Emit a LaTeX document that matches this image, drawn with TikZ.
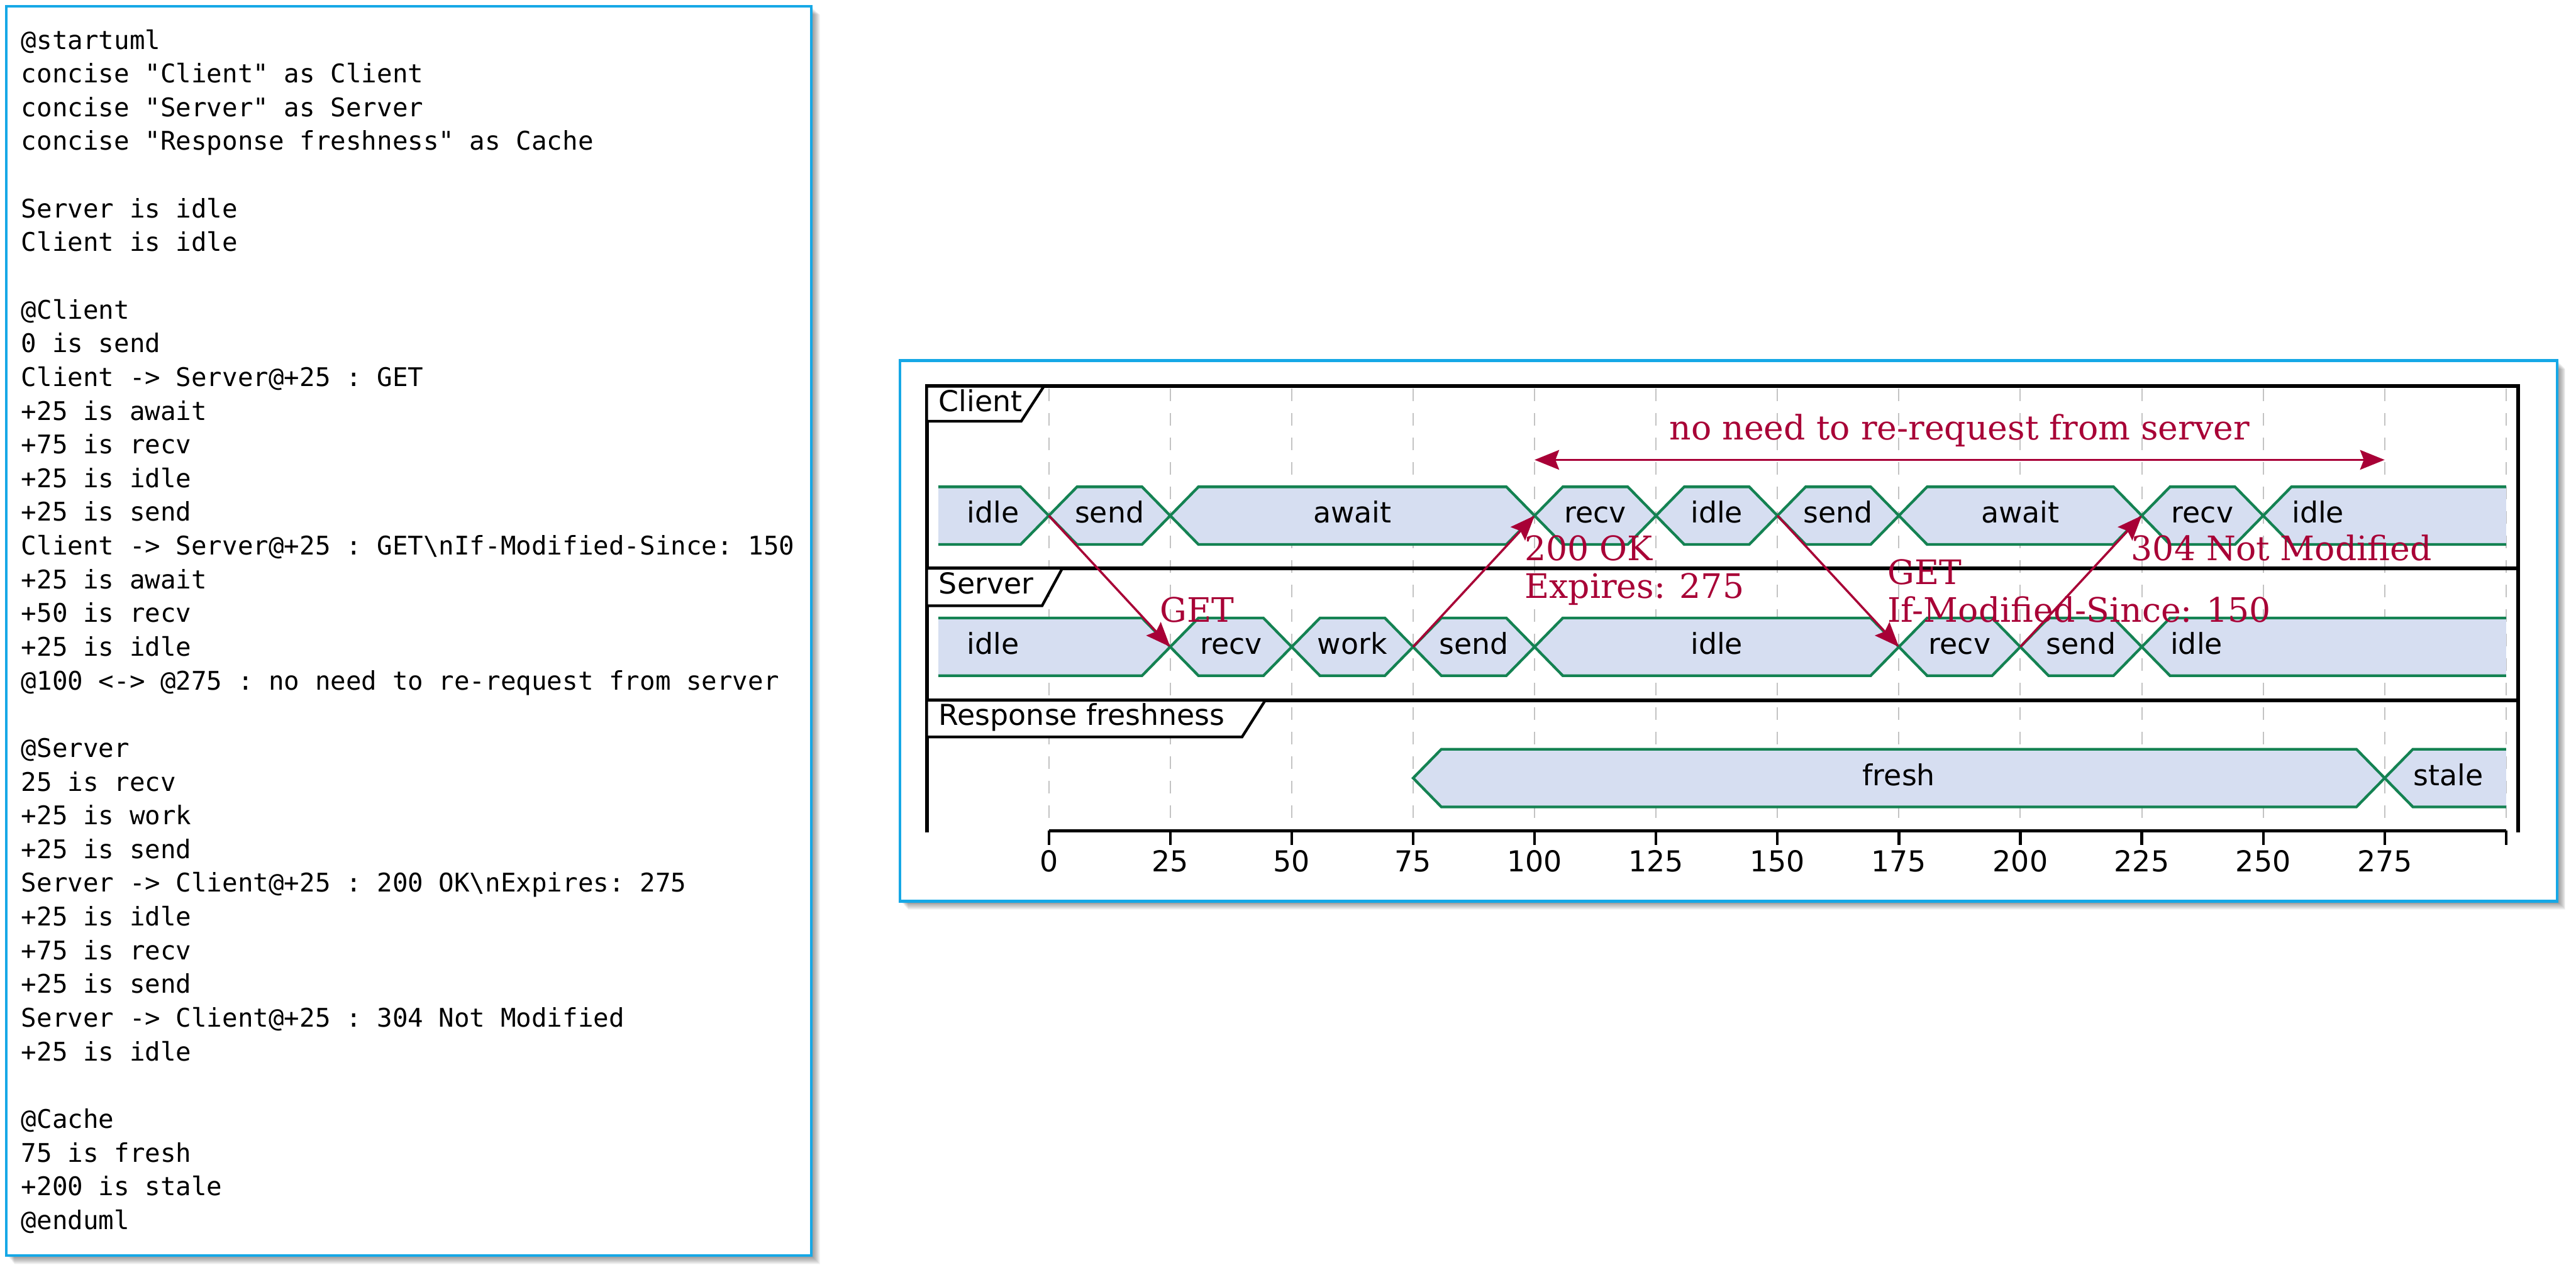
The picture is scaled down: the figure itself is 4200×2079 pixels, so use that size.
\documentclass[tikz,border=0pt]{standalone}
\usepackage{fontspec}
\setmainfont{DejaVu Serif}
\setmonofont{DejaVu Sans Mono}
\newfontfamily\labelfont{DejaVu Sans}
\newfontfamily\notefont{DejaVu Serif}
\usetikzlibrary{arrows.meta}

\definecolor{panelblue}{RGB}{22,168,230}
\definecolor{stgreen}{RGB}{20,130,82}
\definecolor{stfill}{RGB}{214,222,241}
\definecolor{msgred}{RGB}{168,0,54}
\definecolor{gridgrey}{RGB}{195,195,195}

% interior state: x1 x2 yc text name
\newcommand{\midstate}[5]{%
  \filldraw[stateline] (#1,#3) -- ({#1+46},{#3-47}) -- ({#2-46},{#3-47}) -- (#2,#3)
    -- ({#2-46},{#3+47}) -- ({#1+46},{#3+47}) -- cycle;
  \node[statetext] (#5) at ({(#1+#2)/2},{#3+12}) {#4};}
% first state (no left edge)
\newcommand{\firststate}[5]{%
  \fill[stfill] (#1,{#3-47}) -- ({#2-46},{#3-47}) -- (#2,#3) -- ({#2-46},{#3+47}) -- (#1,{#3+47}) -- cycle;
  \draw[stedge] (#1,{#3-47}) -- ({#2-46},{#3-47}) -- (#2,#3) -- ({#2-46},{#3+47}) -- (#1,{#3+47});
  \node[statetext,anchor=base west] (#5) at ({#1+46},{#3+12}) {#4};}
% last state (open right end)
\newcommand{\laststate}[5]{%
  \fill[stfill] (#1,#3) -- ({#1+46},{#3-47}) -- (#2,{#3-47}) -- (#2,{#3+47}) -- ({#1+46},{#3+47}) -- cycle;
  \draw[stedge] (#2,{#3-47}) -- ({#1+46},{#3-47}) -- (#1,#3) -- ({#1+46},{#3+47}) -- (#2,{#3+47});
  \node[statetext,anchor=base west] (#5) at ({#1+46},{#3+12}) {#4};}

\begin{document}
\begin{tikzpicture}[x=0.25pt,y=-0.25pt,
  codeline/.style={font=\ttfamily\fontsize{10.47}{12}\selectfont, anchor=base west, inner sep=0pt},
  statetext/.style={font=\labelfont\fontsize{11.75}{14}\selectfont, anchor=base, inner sep=0pt},
  rowlabel/.style={font=\labelfont\fontsize{11.75}{14}\selectfont, anchor=base west, inner sep=0pt},
  ticklabel/.style={font=\labelfont\fontsize{11.75}{14}\selectfont, anchor=base, inner sep=0pt},
  msgtext/.style={font=\notefont\fontsize{13.75}{16}\selectfont, text=msgred, anchor=base west, inner sep=0pt},
  tipshape/.style={},
  msgline/.style={draw=msgred, line width=0.9pt, -{Stealth[length=10pt,width=8pt,inset=1.5pt]}},
  spanline/.style={draw=msgred, line width=0.9pt, {Stealth[length=10pt,width=8pt,inset=1.5pt]}-{Stealth[length=10pt,width=8pt,inset=1.5pt]}},
  stateline/.style={draw=stgreen, line width=1.1pt, fill=stfill},
  stedge/.style={draw=stgreen, line width=1.1pt},
  panel/.style={draw=panelblue, line width=1.1pt, fill=white},
  framel/.style={draw=black, line width=1.5pt},
  labelbox/.style={draw=black, line width=1.1pt, fill=white, line join=miter},
  gridline/.style={draw=gridgrey, line width=0.5pt, dash pattern=on 5pt off 5pt},
  axisline/.style={draw=black, line width=1.5pt},
  tickline/.style={draw=black, line width=1.1pt}]

% background and bounding box
\fill[white] (0,0) rectangle (4200,2079);
\useasboundingbox (0,0) rectangle (4200,2079);

% shadows
\foreach \k in {1,...,14} {
  \fill[black, opacity=0.035] ({10+\k},{10+\k}) rectangle ({1323+\k},{2048+\k});
  \fill[black, opacity=0.035] ({1467+\k},{588+\k}) rectangle ({4169+\k},{1470+\k});
}

% ---------------- left panel: source ----------------
\path[panel] (10,10) rectangle (1323,2048);
\node[codeline] (l0)  at (34,80)   {@startuml};
\node[codeline] (l1)  at (34,135)  {concise "Client" as Client};
\node[codeline] (l2)  at (34,190)  {concise "Server" as Server};
\node[codeline] (l3)  at (34,245)  {concise "Response freshness" as Cache};
\node[codeline] (l5)  at (34,355)  {Server is idle};
\node[codeline] (l6)  at (34,410)  {Client is idle};
\node[codeline] (l8)  at (34,520)  {@Client};
\node[codeline] (l9)  at (34,575)  {0 is send};
\node[codeline] (l10) at (34,630)  {Client -> Server@+25 : GET};
\node[codeline] (l11) at (34,685)  {+25 is await};
\node[codeline] (l12) at (34,740)  {+75 is recv};
\node[codeline] (l13) at (34,795)  {+25 is idle};
\node[codeline] (l14) at (34,850)  {+25 is send};
\node[codeline] (l15) at (34,905)  {Client -> Server@+25 : GET\textbackslash nIf-Modified-Since: 150};
\node[codeline] (l16) at (34,960)  {+25 is await};
\node[codeline] (l17) at (34,1015) {+50 is recv};
\node[codeline] (l18) at (34,1070) {+25 is idle};
\node[codeline] (l19) at (34,1125) {@100 <-> @275 : no need to re-request from server};
\node[codeline] (l21) at (34,1235) {@Server};
\node[codeline] (l22) at (34,1290) {25 is recv};
\node[codeline] (l23) at (34,1345) {+25 is work};
\node[codeline] (l24) at (34,1400) {+25 is send};
\node[codeline] (l25) at (34,1455) {Server -> Client@+25 : 200 OK\textbackslash nExpires: 275};
\node[codeline] (l26) at (34,1510) {+25 is idle};
\node[codeline] (l27) at (34,1565) {+75 is recv};
\node[codeline] (l28) at (34,1620) {+25 is send};
\node[codeline] (l29) at (34,1675) {Server -> Client@+25 : 304 Not Modified};
\node[codeline] (l30) at (34,1730) {+25 is idle};
\node[codeline] (l32) at (34,1840) {@Cache};
\node[codeline] (l33) at (34,1895) {75 is fresh};
\node[codeline] (l34) at (34,1950) {+200 is stale};
\node[codeline] (l35) at (34,2005) {@enduml};

% ---------------- right panel: timing diagram ----------------
\path[panel] (1467,588) rectangle (4169,1470);

% grid
\foreach \t in {0,25,...,300} {
  \draw[gridline] ({1710+7.92*\t},634) -- ({1710+7.92*\t},1350);
}

% frame
\draw[framel] (1511,1358) -- (1511,630) -- (4106,630) -- (4106,1358);
\draw[framel] (1511,927) -- (4106,927);
\draw[framel] (1511,1142) -- (4106,1142);

% row labels
\draw[labelbox] (1511,630) -- (1702,630) -- (1665,687) -- (1511,687) -- cycle;
\node[rowlabel] (lblclient) at (1530,671) {Client};
\draw[labelbox] (1511,927) -- (1732,927) -- (1699,988) -- (1511,988) -- cycle;
\node[rowlabel] (lblserver) at (1530,968) {Server};
\draw[labelbox] (1511,1142) -- (2063,1142) -- (2025,1202) -- (1511,1202) -- cycle;
\node[rowlabel] (lblcache) at (1530,1183) {Response freshness};

% Client states (yc = 841)
\firststate{1530}{1710}{841}{idle}{c1}
\midstate{1710}{1908}{841}{send}{c2}
\midstate{1908}{2502}{841}{await}{c3}
\midstate{2502}{2700}{841}{recv}{c4}
\midstate{2700}{2898}{841}{idle}{c5}
\midstate{2898}{3096}{841}{send}{c6}
\midstate{3096}{3492}{841}{await}{c7}
\midstate{3492}{3690}{841}{recv}{c8}
\laststate{3690}{4086}{841}{idle}{c9}

% Server states (yc = 1055)
\firststate{1530}{1908}{1055}{idle}{s1}
\midstate{1908}{2106}{1055}{recv}{s2}
\midstate{2106}{2304}{1055}{work}{s3}
\midstate{2304}{2502}{1055}{send}{s4}
\midstate{2502}{3096}{1055}{idle}{s5}
\midstate{3096}{3294}{1055}{recv}{s6}
\midstate{3294}{3492}{1055}{send}{s7}
\laststate{3492}{4086}{1055}{idle}{s8}

% Cache states (yc = 1269)
\midstate{2304}{3888}{1269}{fresh}{r1}
\laststate{3888}{4086}{1269}{stale}{r2}

% axis
\draw[axisline] (1710,1355) -- (4086,1355);
\foreach \t in {0,25,...,300} {
  \draw[tickline] ({1710+7.92*\t},1355) -- ({1710+7.92*\t},1378);
}
\foreach \t in {0,25,...,275} {
  \node[ticklabel] (tk\t) at ({1710+7.92*\t},1422) {\t};
}

% message end points
\coordinate (cl0) at (1710,841);
\coordinate (sv25) at (1908,1055);
\coordinate (sv75) at (2304,1055);
\coordinate (cl100) at (2502,841);
\coordinate (cl150) at (2898,841);
\coordinate (sv175) at (3096,1055);
\coordinate (sv200) at (3294,1055);
\coordinate (cl225) at (3492,841);
\coordinate (nn100) at (2502,750);
\coordinate (nn275) at (3888,750);

% messages
\draw[msgline] (cl0) -- (sv25);
\draw[msgline] (sv75) -- (cl100);
\draw[msgline] (cl150) -- (sv175);
\draw[msgline] (sv200) -- (cl225);
\draw[spanline] (nn100) -- (nn275);

\node[msgtext] (m1) at (1891,1015) {GET};
\node[msgtext] (m2a) at (2485,914) {200 OK};
\node[msgtext] (m2b) at (2485,976) {Expires: 275};
\node[msgtext] (m3a) at (3077,953) {GET};
\node[msgtext] (m3b) at (3077,1015) {If-Modified-Since: 150};
\node[msgtext] (m4) at (3474,914) {304 Not Modified};
\node[msgtext, anchor=base] (note) at (3195,717) {no need to re-request from server};

\end{tikzpicture}
\end{document}
